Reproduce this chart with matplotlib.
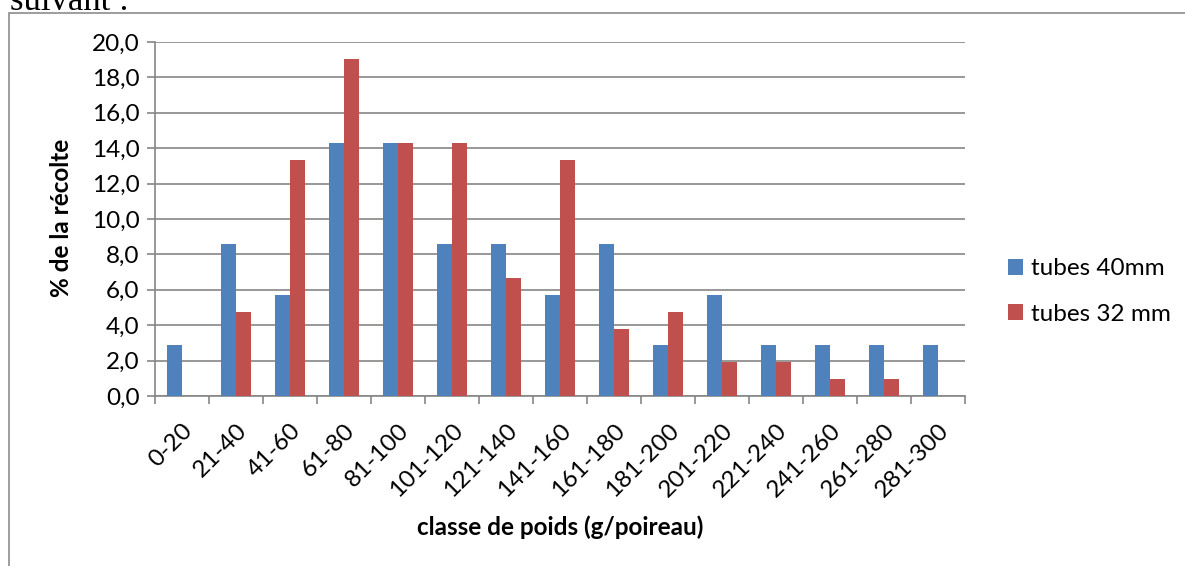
import matplotlib
matplotlib.use("Agg")
import matplotlib.pyplot as plt
import matplotlib.transforms as mtransforms
import numpy as np
from matplotlib.patches import Rectangle

# Répartition de la récolte par classe de poids
classes = ["0-20", "21-40", "41-60", "61-80", "81-100", "101-120", "121-140",
           "141-160", "161-180", "181-200", "201-220", "221-240", "241-260",
           "261-280", "281-300"]
tubes_40 = [2.86, 8.57, 5.71, 14.29, 14.29, 8.57, 8.57, 5.71, 8.57, 2.86,
            5.71, 2.86, 2.86, 2.86, 2.86]
tubes_32 = [0.0, 4.76, 13.33, 19.05, 14.29, 14.29, 6.67, 13.33, 3.81, 4.76,
            1.90, 1.90, 0.95, 0.95, 0.0]
series_names = ["tubes 40mm", "tubes 32 mm"]
y_ticks = np.arange(0, 21, 2)

BLUE = "#4f81bd"
RED = "#c0504d"
GRID = "#868686"
FONT = "Lato"
FS = 17.5

W, H = 1185, 566
fig = plt.figure(figsize=(W / 100, H / 100), dpi=100)

# chart frame and the tail of the preceding paragraph
fig.patches.append(Rectangle((9 / W, -0.01), 1.0, (H - 13) / H + 0.01,
                             transform=fig.transFigure, fill=False,
                             edgecolor="#8c8c8c", lw=1.2))
fig.text(10 / W, 1 - 10 / H, "suivant :", family="Liberation Serif",
         fontsize=25, va="baseline", ha="left")

ax = fig.add_axes([155 / W, 1 - 396 / H, (965 - 155) / W, (396 - 42) / H])

x = np.arange(len(classes))
bw = 1 / 3.5
ax.bar(x - bw / 2, tubes_40, bw, color=BLUE, label=series_names[0], zorder=3)
ax.bar(x + bw / 2, tubes_32, bw, color=RED, label=series_names[1], zorder=3)

ax.set_xlim(-0.5, len(classes) - 0.5)
ax.set_ylim(0, 20)
ax.set_yticks(y_ticks)
ax.set_yticklabels([f"{v:.1f}".replace(".", ",") for v in y_ticks],
                   family=FONT, fontsize=FS)
ax.set_xticks(np.arange(len(classes) + 1) - 0.5)
ax.set_xticklabels([])
ax.set_xticks(x, minor=True)
ax.set_xticklabels(classes, minor=True, rotation=45, ha="right",
                   rotation_mode="anchor", family=FONT, fontsize=FS)
ax.tick_params(axis="x", which="minor", length=0, pad=12)
ax.tick_params(axis="x", which="major", length=6, color=GRID, width=1.2)
ax.tick_params(axis="y", length=6, color=GRID, width=1.2, pad=5)

# push the rotated category labels a bit further below the axis
shift = mtransforms.ScaledTranslation(0.0, -0.07, fig.dpi_scale_trans)
for lbl in ax.get_xticklabels(minor=True):
    lbl.set_transform(lbl.get_transform() + shift)

ax.grid(axis="y", color=GRID, lw=1.2, zorder=0)
for side in ("top", "right"):
    ax.spines[side].set_visible(False)
for side in ("left", "bottom"):
    ax.spines[side].set_color(GRID)
    ax.spines[side].set_linewidth(1.2)

fig.text(62 / W, 1 - 218 / H, "% de la récolte", family=FONT, fontsize=FS,
         fontweight="bold", rotation=90, ha="center", va="center")
fig.text(560 / W, 1 - 527 / H, "classe de poids (g/poireau)", family=FONT,
         fontsize=FS, fontweight="bold", ha="center", va="center")

ax.legend(loc="center left", bbox_to_anchor=((1008 - 155) / 810, 0.295),
          frameon=False, borderpad=0, borderaxespad=0,
          prop={"family": FONT, "size": FS}, handlelength=0.6,
          handleheight=0.6, handletextpad=0.35, labelspacing=1.0)

fig.savefig("out.png", dpi=100)
